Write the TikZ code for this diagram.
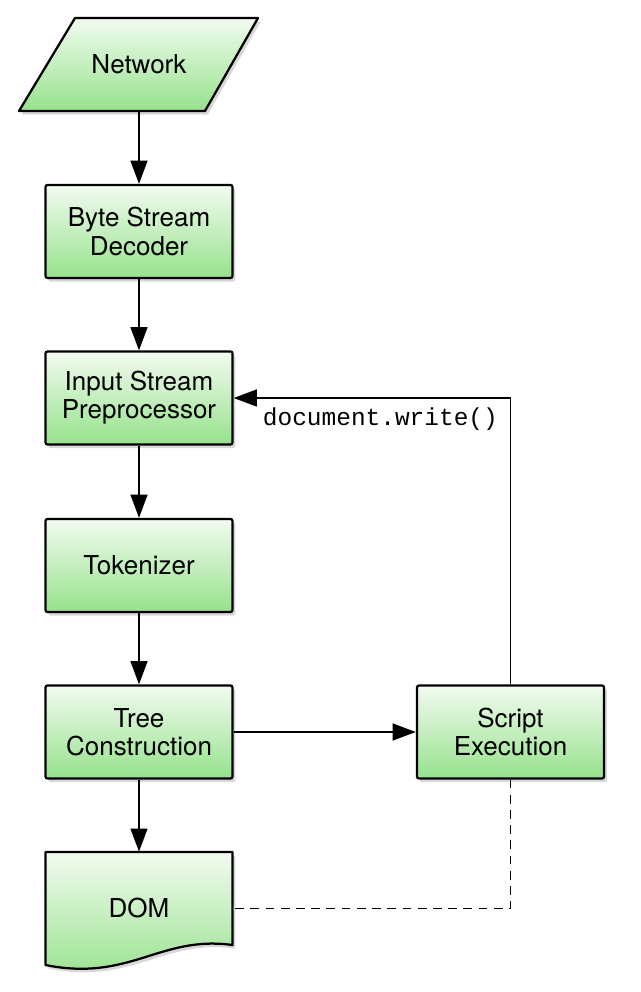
\documentclass[tikz,border=0pt]{standalone}
\usepackage{fontspec}
\setmainfont{TeX Gyre Heros}
\setmonofont{Liberation Mono}
\usepackage{xcolor}
\usetikzlibrary{arrows.meta,positioning,calc,shadows}
\definecolor{boxtop}{RGB}{242,251,240}
\definecolor{boxbot}{RGB}{150,226,140}

\begin{document}
\begin{tikzpicture}[x=0.025cm, y=-0.025cm, >={Triangle[length=0.58cm,width=0.42cm]},
   font=\fontsize{18.5}{20}\selectfont,
   greenfill/.style={draw, line width=1.6pt, top color=boxtop, bottom color=boxbot,
               drop shadow={opacity=0.3, shadow xshift=2pt, shadow yshift=-2.5pt}},
   box/.style={greenfill, rounded corners=1.5pt, minimum width=4.675cm,
               minimum height=2.325cm, align=center, inner sep=2pt},
   flow/.style={->, line width=1.4pt},
   link/.style={line width=1.4pt, dash pattern=on 0.22cm off 0.16cm}]
  \useasboundingbox[fill=white] (0,0) rectangle (640,992);
  \path[greenfill, line join=round] (75,18) -- (258,18) -- (205,111) -- (19,111) -- cycle;
  \node[minimum width=4.65cm, minimum height=2.325cm] (net) at (139,64.5) {Network};
  \node[box]  (dec)  at (139,231.5) {Byte Stream\\Decoder};
  \node[box]  (pre)  at (139,398)   {Input Stream\\Preprocessor};
  \node[box]  (tok)  at (139,565.5) {Tokenizer};
  \node[box]  (tree) at (139,732)   {Tree\\Construction};
  \node[box]  (exec) at (510.5,732) {Script\\Execution};
  \path[greenfill, line join=round] (45.5,852) -- (232.5,852) -- (232.5,945)
       .. controls (160,935) and (130,982) .. (45.5,965) -- cycle;
  \node[minimum width=4.675cm, minimum height=2.825cm] (dom) at (139,908.5) {DOM};
  \draw[flow] (net.south) -- (dec.north);
  \draw[flow] (dec) -- (pre);
  \draw[flow] (pre) -- (tok);
  \draw[flow] (tok) -- (tree);
  \draw[flow] (tree.south) -- (dom.north);
  \draw[flow] (tree) -- (exec);
  \draw[flow] (exec.north) |- node[below, pos=0.735, yshift=-3pt,
       font=\fontsize{17.4}{20}\ttfamily]{document.write()} (pre.east);
  \draw[link] (exec.south) |- (dom.east);
\end{tikzpicture}
\end{document}
